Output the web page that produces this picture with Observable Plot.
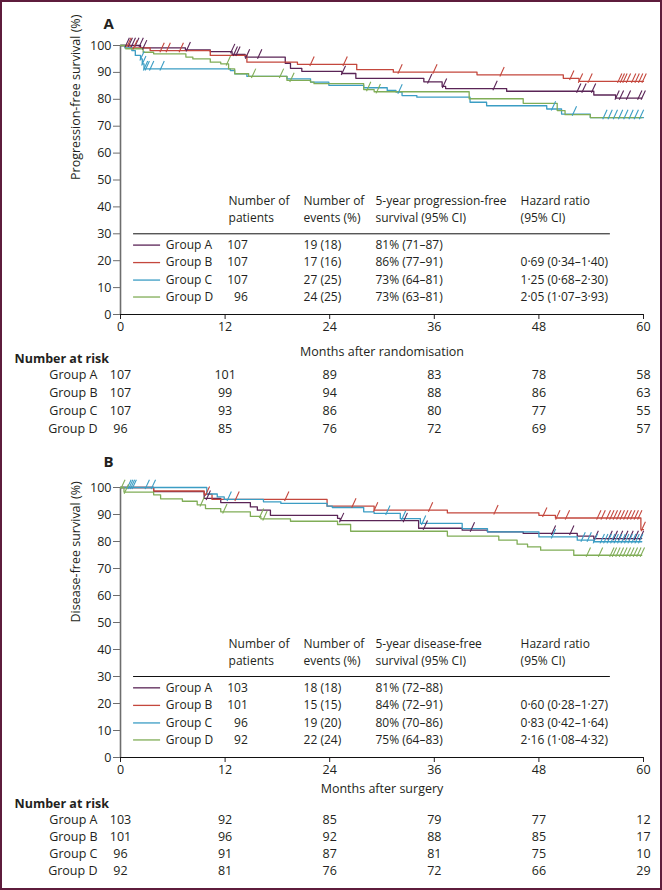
<!DOCTYPE html>
<html><head><meta charset="utf-8">
<script src="https://cdn.jsdelivr.net/npm/d3@7"></script>
<script src="https://cdn.jsdelivr.net/npm/@observablehq/plot@0.6"></script>
<style>
html,body{margin:0;padding:0;background:#fff;}
#wrap{position:relative;width:662px;height:890px;overflow:hidden;}
#frame{position:fixed;left:0;top:0;width:662px;height:890px;box-sizing:border-box;border:2px solid #5e1c3c;pointer-events:none;}
#wrap svg{display:block;overflow:visible;}
</style></head>
<body><div id="wrap"></div><div id="frame"></div>
<script>
// ---------- shared ----------
const groups = ["Group A", "Group B", "Group C", "Group D"];
const colors = ["#5a2456", "#c4473d", "#3b9dc4", "#80ad57"];
const months = [0, 12, 24, 36, 48, 60];
const yTicks = [0, 10, 20, 30, 40, 50, 60, 70, 80, 90, 100];

// ---------- Panel A: progression-free survival ----------
const pfsStepsA = [[0,100],[2.3,99.1],[7.45,98.4],[10.3,97.7],[12.8,96.7],[14.3,95.7],[18.9,93.4],[19.5,91.5],[20.8,90.4],[25.4,89.6],[27,87.8],[34.8,86.5],[36.9,84.8],[37.3,84.0],[44.3,83.0],[54.3,81.6],[56.8,80.4]];
const pfsStepsB = [[0,100],[1.1,99.1],[3.4,98.1],[10.3,96.3],[14.5,93.8],[20.3,93.0],[27.1,91.0],[31.3,90.1],[40.9,89.1],[50.8,87.8],[52.6,86.7]];
const pfsStepsC = [[0,100],[0.5,99.1],[1.3,98.1],[1.7,96.3],[2.3,95.0],[2.5,93.2],[2.7,91.3],[12.6,90.7],[13.1,89.5],[14.5,88.5],[19.1,87.6],[21.8,86.4],[23.9,85.2],[27.9,84.3],[30.6,83.3],[31.6,82.7],[32.3,81.4],[34,80.8],[40.1,78.9],[42,77.6],[48.9,76.4],[50.6,74.5],[53.9,73.2]];
const pfsStepsD = [[0,100],[0.6,98.8],[2.6,97.5],[3.8,96.9],[7.5,95.7],[8.3,95.0],[10.3,93.8],[11.5,93.2],[12.4,91.3],[13.1,89.5],[14.7,88.5],[19.1,87.0],[21.8,86.4],[22.2,85.8],[27.9,83.6],[29.1,82.8],[40,80.2],[46.2,78.5],[50.1,75.8],[51,74.3],[53.9,73.2]];
const pfsEnds = [59.8, 60, 60, 59.8];
const pfsCensA = [0.6,0.95,1.3,1.7,2.2,2.6,7.6,12.7,13.0,13.3,14.4,15.8,25.4,35.3,37,42.8,52.4,53,54.1,56.8,57.3,58.1,59.4,59.8];
const pfsCensB = [0.8,1.5,4.6,5.3,6.8,21.8,25.6,31.9,35.9,43.6,51.6,52.6,53.7,57.1,57.4,57.7,58.1,58.7,59.1,59.5,59.9];
const pfsCensC = [2.3,2.5,2.7,2.9,3.4,4.6,31.9,49.5,51.9,55.4,56,56.6,57.2,57.8,58.4,59,59.6];
const pfsCensD = [12.2,15.1,18.3,19.5,28.3,29.4];
const pfsPatients = ["107", "107", "107", "96"];
const pfsEvents = ["19 (18)", "17 (16)", "27 (25)", "24 (25)"];
const pfsFiveYear = ["81% (71–87)", "86% (77–91)", "73% (64–81)", "73% (63–81)"];
const pfsHR = ["", "0·69 (0·34–1·40)", "1·25 (0·68–2·30)", "2·05 (1·07–3·93)"];
const pfsHeader1 = ["Number of", "Number of", "5-year progression-free", "Hazard ratio"];
const pfsHeader2 = ["patients", "events (%)", "survival (95% CI)", "(95% CI)"];
const pfsRiskA = [107, 101, 89, 83, 78, 58];
const pfsRiskB = [107, 99, 94, 88, 86, 63];
const pfsRiskC = [107, 93, 86, 80, 77, 55];
const pfsRiskD = [96, 85, 76, 72, 69, 57];

// ---------- Panel B: disease-free survival ----------
const dfsStepsA = [[0,100],[3.8,98.5],[9.6,96.0],[11.5,94.4],[14.9,92.8],[15.7,91.6],[17.2,89.7],[24.9,88.6],[25.2,87.7],[34.2,84.9],[39.2,84.2],[42.1,83.6],[46.2,83.0],[52.4,82.0],[54.3,81.1]];
const dfsStepsB = [[0,100],[3.8,98.7],[9.6,97.5],[10.5,95.6],[23.7,93.1],[29.1,91.6],[37.5,90.6],[48,89.7],[49.9,88.7],[59.7,84.4]];
const dfsStepsC = [[0,100],[9.9,97.6],[11.1,96.5],[11.9,95.6],[16.4,94.7],[18.4,94.1],[23.7,93.1],[24.3,92.6],[27.9,91.0],[29.1,90.4],[32.1,88.5],[34.4,86.7],[39.2,84.8],[42.1,83.6],[48,81.7],[52.4,80.5],[54.3,79.9]];
const dfsStepsD = [[0,100],[0.4,98.3],[3.8,97.3],[4.6,95.8],[7.1,94.9],[8.8,93.6],[9.75,92.2],[11.5,91.0],[14.9,89.3],[16.1,88.4],[19.5,87.5],[24.9,86.3],[26.4,83.8],[37.5,82.0],[43.4,80.5],[45.5,79.0],[46.7,78.0],[48.2,76.8],[52,74.9]];
const dfsEnds = [59.8, 60, 59.8, 59.8];
const dfsCensA = [9.9,25.2,32.5,34.8,40.2,49.5,51.6,54.4,56,56.6,57.2,57.8,58.4,59,59.6];
const dfsCensB = [9.8,13.2,18.9,26.6,29.1,35.4,42.9,48.5,50,51.1,54.7,55.2,55.8,56.2,56.6,57,57.4,57.8,58.2,58.6,59,59.4,59.8];
const dfsCensC = [0.8,1.0,1.2,1.4,2.9,3.6,12.3,30.5,32.3,34.6,49.5,52.9,53.6,54.3,55.1,55.5,55.9,56.3,56.7,57.1,57.5,57.9,58.3,58.7,59.1,59.5];
const dfsCensD = [0.1,0.5,9.2,11.8,16,16.4,53.5,54.9,56.2,56.5,56.9,57.3,57.7,58.1,58.5,58.9,59.3,59.7];
const dfsPatients = ["103", "101", "96", "92"];
const dfsEvents = ["18 (18)", "15 (15)", "19 (20)", "22 (24)"];
const dfsFiveYear = ["81% (72–88)", "84% (72–91)", "80% (70–86)", "75% (64–83)"];
const dfsHR = ["", "0·60 (0·28–1·27)", "0·83 (0·42–1·64)", "2·16 (1·08–4·32)"];
const dfsHeader1 = ["Number of", "Number of", "5-year disease-free", "Hazard ratio"];
const dfsHeader2 = ["patients", "events (%)", "survival (95% CI)", "(95% CI)"];
const dfsRiskA = [103, 92, 85, 79, 77, 12];
const dfsRiskB = [101, 96, 92, 88, 85, 17];
const dfsRiskC = [96, 91, 87, 81, 75, 10];
const dfsRiskD = [92, 81, 76, 72, 66, 29];

// ---------- layout (annotation placement, in axis units) ----------
const FONT = "'Open Sans', sans-serif";
const TEXT = "#231f20";
const legendRowY = [25.8, 19.3, 12.8, 6.5];
const legendHeadY = [42.1, 35.8];
const legendRuleY = 30;
const legendSwatch = [1.5, 4.6];
const legendLabelX = 5.2;
const legendPatientsX = 14.6;   // right aligned
const legendColX = [12.4, 21.0, 29.25, 45.9]; // header columns
const legendRuleEnd = 56.2;

function survAt(steps, t) {
  let s = steps[0][1];
  for (const [tt, v] of steps) if (tt <= t + 1e-9) s = v;
  return s;
}

function kmChart(o) {
  const lines = [], cens = [];
  groups.forEach((g, i) => {
    o.steps[i].forEach(([t, s]) => lines.push({group: g, t, s}));
    lines.push({group: g, t: o.ends[i], s: o.steps[i][o.steps[i].length - 1][1]});
    o.censors[i].forEach(t => cens.push({group: g, t, s: survAt(o.steps[i], t)}));
  });
  const rows = groups.map((g, i) => ({group: g, y: legendRowY[i], patients: o.patients[i], events: o.events[i], five: o.five[i], hr: o.hr[i]}));
  const heads = [0, 1, 2, 3].flatMap(j => [
    {x: legendColX[j], y: legendHeadY[0], text: o.head1[j]},
    {x: legendColX[j], y: legendHeadY[1], text: o.head2[j]}
  ]);
  return Plot.plot({
    width: 662, height: o.height,
    marginTop: o.marginTop, marginBottom: 42, marginLeft: 120, marginRight: 19,
    style: {fontFamily: FONT, fontSize: "12px", color: TEXT, overflow: "visible", background: "transparent"},
    x: {domain: [0, 60]},
    y: {domain: [0, 100]},
    color: {domain: groups, range: colors},
    marks: [
      Plot.axisY({ticks: yTicks, tickSize: 7, tickPadding: 2, label: null, stroke: "#6d6d6d", fontSize: 12.5}),
      Plot.axisX({ticks: months, tickSize: 5, tickPadding: 3, label: null, fontSize: 12.5}),
      Plot.ruleX([0], {stroke: "#6d6d6d", strokeWidth: 1.6}),
      Plot.ruleY([0], {stroke: "#111", strokeWidth: 1.2}),
      Plot.line(lines, {x: "t", y: "s", z: "group", stroke: "group", curve: "step-after", strokeWidth: 1.3}),
      Plot.link(cens, {x1: d => d.t - 0.08, y1: d => d.s - 0.6, x2: d => d.t + 0.42, y2: d => d.s + 2.9, stroke: "group", strokeWidth: 1.1}),
      // legend table
      Plot.text(heads, {x: "x", y: "y", text: "text", textAnchor: "start", fill: TEXT}),
      Plot.ruleY([legendRuleY], {x1: legendSwatch[0], x2: legendRuleEnd, stroke: "#111", strokeWidth: 1}),
      Plot.ruleY(rows, {y: "y", x1: legendSwatch[0], x2: legendSwatch[1], stroke: "group", strokeWidth: 1.3}),
      Plot.text(rows, {x: legendLabelX, y: "y", text: "group", textAnchor: "start", fill: TEXT}),
      Plot.text(rows, {x: legendPatientsX, y: "y", text: "patients", textAnchor: "end", fill: TEXT}),
      Plot.text(rows, {x: legendColX[1], y: "y", text: "events", textAnchor: "start", fill: TEXT}),
      Plot.text(rows, {x: legendColX[2], y: "y", text: "five", textAnchor: "start", fill: TEXT}),
      Plot.text(rows, {x: legendColX[3], y: "y", text: "hr", textAnchor: "start", fill: TEXT}),
      // titles
      Plot.text([o.letter], {frameAnchor: "top-left", dx: -17, dy: o.letterDy, fontWeight: "bold", fontSize: 15, fill: TEXT}),
      Plot.text([o.ylabel], {frameAnchor: "left", dx: -45, rotate: -90, fontSize: 12.5, fill: TEXT}),
      Plot.text([o.xlabel], {frameAnchor: "bottom", dy: o.xlabelDy, lineAnchor: "middle", fontSize: 12.5, fill: TEXT})
    ]
  });
}

function riskTable(o) {
  const data = [];
  groups.forEach((g, i) => months.forEach((m, j) => data.push({group: g, m, n: o.risk[i][j]})));
  return Plot.plot({
    width: 662, height: o.height,
    marginTop: o.marginTop, marginBottom: o.marginBottom, marginLeft: 120, marginRight: 19,
    style: {fontFamily: FONT, fontSize: "12.5px", color: TEXT, overflow: "visible", background: "transparent"},
    x: {domain: [0, 60], axis: null},
    y: {type: "point", domain: groups, padding: 0.5, axis: null},
    marks: [
      Plot.axisY({tickSize: 0, tickPadding: 23, label: null}),
      Plot.text(data, {x: "m", y: "group", text: "n", fill: TEXT}),
      Plot.text(["Number at risk"], {frameAnchor: "top-left", dx: -106, dy: o.titleDy, lineAnchor: "middle", textAnchor: "start", fontWeight: "bold", fill: TEXT})
    ]
  });
}

const wrap = document.getElementById("wrap");
wrap.append(kmChart({
  steps: [pfsStepsA, pfsStepsB, pfsStepsC, pfsStepsD], ends: pfsEnds,
  censors: [pfsCensA, pfsCensB, pfsCensC, pfsCensD],
  patients: pfsPatients, events: pfsEvents, five: pfsFiveYear, hr: pfsHR,
  head1: pfsHeader1, head2: pfsHeader2,
  letter: "A", letterDy: -27, ylabel: "Progression-free survival (%)", xlabel: "Months after randomisation", xlabelDy: 37,
  marginTop: 45, height: 356
}));
wrap.append(riskTable({risk: [pfsRiskA, pfsRiskB, pfsRiskC, pfsRiskD], marginTop: 9, marginBottom: 0, height: 81, titleDy: -7}));
wrap.append(kmChart({
  steps: [dfsStepsA, dfsStepsB, dfsStepsC, dfsStepsD], ends: dfsEnds,
  censors: [dfsCensA, dfsCensB, dfsCensC, dfsCensD],
  patients: dfsPatients, events: dfsEvents, five: dfsFiveYear, hr: dfsHR,
  head1: dfsHeader1, head2: dfsHeader2,
  letter: "B", letterDy: -31, ylabel: "Disease-free survival (%)", xlabel: "Months after surgery", xlabelDy: 31,
  marginTop: 50, height: 362
}));
wrap.append(riskTable({risk: [dfsRiskA, dfsRiskB, dfsRiskC, dfsRiskD], marginTop: 10, marginBottom: 0, height: 81, titleDy: -6}));
</script>
</body></html>
